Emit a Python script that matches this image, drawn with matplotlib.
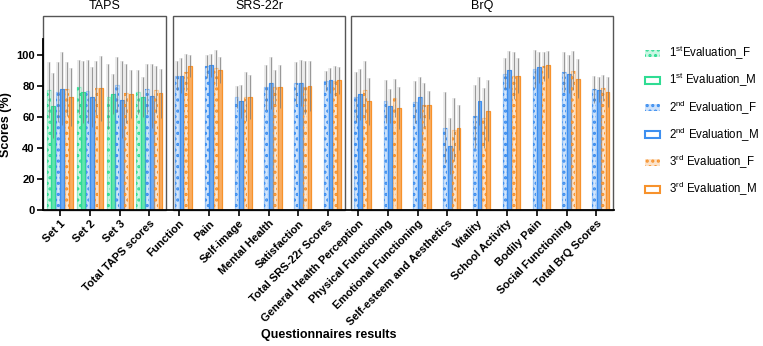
import numpy as np
import matplotlib.pyplot as plt
from matplotlib.colors import to_rgb
from matplotlib.patches import Patch, Rectangle

plt.rcParams['font.family'] = ['Liberation Sans', 'DejaVu Sans']
plt.rcParams['hatch.linewidth'] = 1.5

categories = ["Set 1", "Set 2", "Set 3", "Total TAPS scores",
              "Function", "Pain", "Self-image", "Mental Health", "Satisfaction",
              "Total SRS-22r Scores",
              "General Health Perception", "Physical Functioning",
              "Emotional Functioning", "Self-esteem and Aesthetics", "Vitality",
              "School Activity", "Bodily Pain", "Social Functioning", "Total BrQ Scores"]
groups = ["TAPS", "SRS-22r", "BrQ"]
group_first = [0, 4, 10]
group_last = [3, 9, 18]

nan = np.nan
# means (%) per series, 1st evaluation only for TAPS
e1_f = [77, 79, 73, 76] + [nan] * 15
e1_m = [67, 76, 74.6, 72.7] + [nan] * 15
e2_f = [76, 76.5, 80.6, 78, 86.5, 92.5, 72.7, 79, 81.7, 82.8,
        72.7, 69.9, 69.5, 53, 60.2, 87.7, 90.7, 88.8, 77.8]
e2_m = [78, 72.7, 71, 73.5, 86.5, 93, 69.9, 81.7, 81.9, 83.4,
        74.6, 67, 72.5, 40.9, 70.3, 90.3, 91.8, 87.7, 77.4]
e3_f = [78, 78.5, 75, 77.5, 88.6, 91.4, 73, 79.4, 79, 82.8,
        77, 72, 67.7, 51.6, 59.1, 86.5, 92.5, 89.7, 78.5]
e3_m = [72.7, 78.2, 74.6, 75, 92.5, 89.9, 72.7, 79.4, 80, 83.4,
        69.9, 65.6, 67.7, 53, 63.9, 86.5, 93.5, 84.5, 75.9]
# standard deviations
e1_f_sd = [18, 17.5, 21, 14.3] + [nan] * 15
e1_m_sd = [21, 20, 13, 12.7] + [nan] * 15
e2_f_sd = [19.5, 20, 17.5, 16.2, 9.2, 7.4, 7.3, 14.5, 13.3, 6.4,
           15.9, 14, 13.7, 22.7, 20.4, 10.1, 12.1, 12.9, 8.7]
e2_m_sd = [23.5, 19.3, 24.7, 20.7, 11.1, 7.6, 10.5, 16.6, 14.9, 8,
           16.4, 11, 13.1, 18, 15.3, 11.7, 9.8, 12.3, 8.2]
e3_f_sd = [17.5, 17.5, 19, 15, 12, 11.6, 15.6, 10.9, 17, 9.7,
           19, 12.3, 14, 20.4, 19.4, 15.2, 9.2, 12.3, 8.2]
e3_m_sd = [18.7, 20.8, 15.7, 16, 6.9, 8.5, 14.3, 13.6, 16, 8.6,
           15.1, 13.4, 9.1, 14.7, 19.5, 11.3, 8.5, 12.7, 9.5]

labels = ["1$\\mathregular{^{st}}$Evaluation_F", "1$\\mathregular{^{st}}$ Evaluation_M",
          "2$\\mathregular{^{nd}}$ Evaluation_F", "2$\\mathregular{^{nd}}$ Evaluation_M",
          "3$\\mathregular{^{rd}}$ Evaluation_F", "3$\\mathregular{^{rd}}$ Evaluation_M"]
means = [e1_f, e1_m, e2_f, e2_m, e3_f, e3_m]
sds = [e1_f_sd, e1_m_sd, e2_f_sd, e2_m_sd, e3_f_sd, e3_m_sd]
colors = ["#2fdc93", "#2fdc93", "#3d8ff0", "#3d8ff0", "#f7922c", "#f7922c"]
female = [True, False, True, False, True, False]

fig = plt.figure(figsize=(7.63, 3.46), dpi=100)
ax = fig.add_axes([43 / 763, 136 / 346, 571 / 763, 171 / 346])

x = np.arange(len(categories))
w = 0.15
for k in range(6):
    m = np.array(means[k], dtype=float)
    s = np.array(sds[k], dtype=float)
    ok = ~np.isnan(m)
    pos = x[ok] + (k - 2.5) * w
    c = colors[k]
    if female[k]:
        ax.bar(pos, m[ok], w * 0.85, facecolor=(*to_rgb(c), 0.22),
               edgecolor=c, hatch="...", linewidth=0, zorder=2)
        ax.bar(pos, m[ok], w * 0.85, fill=False,
               edgecolor=(*to_rgb(c), 0.4), linewidth=1.0, zorder=2)
    else:
        ax.bar(pos, m[ok], w * 0.85, facecolor=(*to_rgb(c), 0.75),
               edgecolor=c, linewidth=0.9, zorder=2)
    ax.vlines(pos, m[ok], m[ok] + s[ok], color="#d4d4d4", lw=2.6, alpha=0.55, zorder=3)
    ax.vlines(pos, m[ok] - s[ok], m[ok] + s[ok], color="#777777", lw=0.5, zorder=4)

ax.set_xlim(-0.57, 18.59)
ax.set_ylim(0, 110)
ax.set_yticks([0, 20, 40, 60, 80, 100])
ax.set_xticks(x)
ax.set_xticklabels(categories, rotation=45, ha="right", rotation_mode="anchor",
                   fontsize=8, fontweight="bold")
for t in ax.get_yticklabels():
    t.set_fontweight("bold")
    t.set_fontsize(8)
ax.tick_params(axis="both", direction="out", length=4, width=1.2, pad=2)
for side in ["top", "right"]:
    ax.spines[side].set_visible(False)
for side in ["left", "bottom"]:
    ax.spines[side].set_linewidth(1.3)
ax.set_ylabel("Scores (%)", fontsize=9, fontweight="bold", labelpad=3)

# group boxes and titles
for g, name in enumerate(groups):
    if g == 0:
        left = -0.57
    else:
        left = group_first[g] - 0.22
    right = group_last[g] + 0.57
    ax.add_patch(Rectangle((left, 0), right - left, 125, fill=False,
                           edgecolor="#555555", lw=1.0, clip_on=False, zorder=1))
    ax.text((left + right) / 2, 131, name, ha="center", va="center", fontsize=9,
            clip_on=False)

fig.text(328.5 / 763, 1 - 335 / 346, "Questionnaires results", ha="center", va="center",
         fontsize=9, fontweight="bold")

handles = []
for k in range(6):
    c = colors[k]
    if female[k]:
        handles.append(Patch(facecolor=(*to_rgb(c), 0.25),
                             edgecolor=c, hatch="...", linewidth=0))
    else:
        handles.append(Patch(facecolor="white", edgecolor=c, linewidth=1.5))
fig.legend(handles, labels, loc="upper left", bbox_to_anchor=(645 / 763, 1 - 44 / 346),
           frameon=False, fontsize=8.3, handlelength=1.3, handleheight=0.55,
           handletextpad=0.8, labelspacing=0.8, borderpad=0, borderaxespad=0)

fig.savefig("out.png", dpi=100)
